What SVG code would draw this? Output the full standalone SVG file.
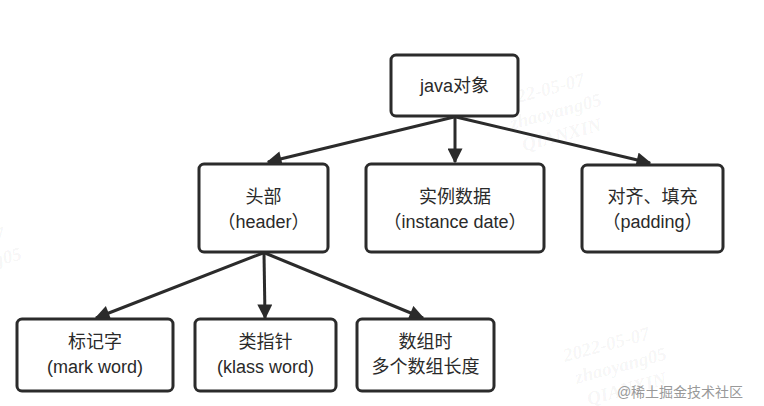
<svg xmlns="http://www.w3.org/2000/svg" width="764" height="406" viewBox="0 0 764 406">
<style>
.box{fill:#fff;stroke:#2b2b2b;stroke-width:3}
.t{font-family:"Liberation Sans","Noto Sans CJK SC",sans-serif;font-size:18px;fill:#2a2a2a;text-anchor:middle}
.ln{stroke:#2b2b2b;stroke-width:3;fill:none}
.wm{font-family:"Liberation Serif",serif;font-style:italic;font-weight:bold;font-size:19px;fill:#000;fill-opacity:0.05}
</style>
<defs>
<marker id="ah" viewBox="0 0 10 10" refX="9" refY="5" markerWidth="5.5" markerHeight="5" orient="auto" markerUnits="strokeWidth">
<path d="M0,0 L10,5 L0,10 z" fill="#2b2b2b"/>
</marker>
</defs>
<rect width="764" height="406" fill="#fff"/>
<g id="watermarks">
<g transform="translate(500,108) rotate(-15)"><text class="wm">2022-05-07</text><text class="wm" x="6" y="24">zhaoyang05</text><text class="wm" x="12" y="48">QIANXIN</text></g>
<g transform="translate(205,190) rotate(-15)"><text class="wm">2022-05-07</text><text class="wm" x="6" y="24">zhaoyang05</text><text class="wm" x="12" y="48">QIANXIN</text></g>
<g transform="translate(565,362) rotate(-15)"><text class="wm">2022-05-07</text><text class="wm" x="6" y="24">zhaoyang05</text><text class="wm" x="12" y="48">QIANXIN</text></g>
<g transform="translate(-80,262) rotate(-15)"><text class="wm">2022-05-07</text><text class="wm" x="6" y="24">zhaoyang05</text></g>
</g>
<g id="connectors">
<line class="ln" x1="454" y1="117" x2="268" y2="162" marker-end="url(#ah)"/>
<line class="ln" x1="455" y1="117" x2="455" y2="162" marker-end="url(#ah)"/>
<line class="ln" x1="456" y1="117" x2="650" y2="163" marker-end="url(#ah)"/>
<line class="ln" x1="263" y1="253" x2="96" y2="318" marker-end="url(#ah)"/>
<line class="ln" x1="264" y1="253" x2="265" y2="318" marker-end="url(#ah)"/>
<line class="ln" x1="265" y1="253" x2="423" y2="318" marker-end="url(#ah)"/>
</g>
<g id="n-java"><rect class="box" x="391" y="55" width="127" height="61" rx="5"/><text class="t" x="454.5" y="92">java对象</text></g>
<g id="n-header"><rect class="box" x="199" y="164" width="129" height="88" rx="5"/><text class="t" x="263.5" y="203">头部</text><text class="t" x="263.5" y="228">（header）</text></g>
<g id="n-instance"><rect class="box" x="366" y="164" width="178" height="88" rx="5"/><text class="t" x="455" y="203">实例数据</text><text class="t" x="455" y="228">（instance date）</text></g>
<g id="n-padding"><rect class="box" x="582" y="165" width="141" height="87" rx="5"/><text class="t" x="652.5" y="203">对齐、填充</text><text class="t" x="652.5" y="228">（padding）</text></g>
<g id="n-mark"><rect class="box" x="17" y="319" width="156" height="72" rx="5"/><text class="t" x="95" y="348">标记字</text><text class="t" x="95" y="373">(mark word)</text></g>
<g id="n-klass"><rect class="box" x="195" y="319" width="141" height="72" rx="5"/><text class="t" x="265.5" y="348">类指针</text><text class="t" x="265.5" y="373">(klass word)</text></g>
<g id="n-array"><rect class="box" x="357" y="319" width="137" height="72" rx="5"/><text class="t" x="425.5" y="348">数组时</text><text class="t" x="425.5" y="373">多个数组长度</text></g>
<text x="680" y="397" style="font-family:'Liberation Sans','Noto Sans CJK SC',sans-serif;font-size:14px;fill:#999;text-anchor:middle">@稀土掘金技术社区</text>
</svg>
